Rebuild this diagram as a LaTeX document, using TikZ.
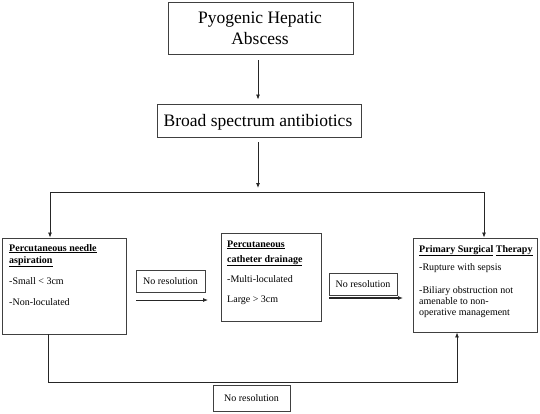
\documentclass[tikz,border=0pt]{standalone}
\usepackage{fontspec}
\setmainfont{Liberation Serif}
\usetikzlibrary{arrows.meta}
\begin{document}
\begin{tikzpicture}[x=1pt,y=-1pt,
  box/.style={draw=black!75, line width=0.9pt, inner sep=0pt},
  conn/.style={draw=black!85, line width=0.8pt},
  arr/.style={conn, -{Latex[length=5pt,width=4pt]}},
  big/.style={font=\fontsize{17.5}{21}\selectfont, anchor=base, inner sep=0pt},
  sm/.style={font=\fontsize{10}{12}\selectfont, anchor=base west, inner sep=0pt},
  nr/.style={font=\fontsize{10}{12}\selectfont, inner sep=0pt},
]
\useasboundingbox (0,0) rectangle (540,413);
% top boxes
\node[box, minimum width=185pt, minimum height=52pt] (b1) at (260.5,28) {};
\node[big] (t1a) at (260,23) {Pyogenic Hepatic};
\node[big] (t1b) at (260,44) {Abscess};
\node[box, minimum width=204pt, minimum height=33pt] (b2) at (259,120.5) {};
\node[big] (t2) at (258,126) {Broad spectrum antibiotics};
% level boxes
\node[box, minimum width=124pt, minimum height=96pt] (b3) at (64,286) {};
\node[sm] (t3a) at (9,251) {\textbf{\underline{Percutaneous needle}}};
\node[sm] (t3b) at (9,263) {\textbf{\underline{aspiration}}};
\node[sm] (t3c) at (9,284) {-Small < 3cm};
\node[sm] (t3d) at (9,305) {-Non-loculated};
\node[box, minimum width=100pt, minimum height=88pt] (b4) at (271,277) {};
\node[sm] (t4a) at (227,247) {\textbf{\underline{Percutaneous}}};
\node[sm] (t4b) at (227,262) {\textbf{\underline{catheter drainage}}};
\node[sm] (t4c) at (227,282) {-Multi-loculated};
\node[sm] (t4d) at (227,302) {Large > 3cm};
\node[box, minimum width=124pt, minimum height=94pt] (b5) at (475,285) {};
\node[sm] (t5a) at (419,252) {\textbf{\underline{Primary Surgical} \underline{Therapy}}};
\node[sm] (t5b) at (419,270) {-Rupture with sepsis};
\node[sm] (t5c) at (419,293) {-Biliary obstruction not};
\node[sm] (t5d) at (419,304) {amenable to non-};
\node[sm] (t5e) at (419,315) {operative management};
% no resolution boxes
\node[box, nr, minimum width=69pt, minimum height=22pt] (nr1) at (170.5,281) {No resolution};
\node[box, nr, minimum width=68pt, minimum height=22pt] (nr2) at (363,284) {No resolution};
\node[box, nr, minimum width=77pt, minimum height=26pt] (nr3) at (251.5,398) {No resolution};
% connectors
\coordinate (c1) at (258,0);
\coordinate (split) at (258,188);
\draw[arr, shorten <=6pt, shorten >=4pt] (b1.south -| c1) -- (b2.north -| c1);
\draw[arr, shorten <=5pt] (b2.south -| c1) -- (split);
\coordinate (hl) at (50,192);
\coordinate (hr) at (484,192);
\draw[conn] (hl) -- (hr);
\draw[arr] (hl) -- (hl |- b3.north);
\draw[arr] (hr) -- (hr |- b5.north);
\coordinate (a1s) at (136,300);
\coordinate (a1e) at (208,300);
\draw[arr] (a1s) -- (a1e);
\coordinate (a2s) at (329,298);
\coordinate (a2e) at (403,298);
\draw[arr, line width=1.3pt] (a2s) -- (a2e);
\coordinate (bl) at (48,382);
\coordinate (br) at (457,382);
\draw[arr] (b3.south -| bl) -- (bl) -- (br) -- (br |- b5.south);
\end{tikzpicture}
\end{document}
